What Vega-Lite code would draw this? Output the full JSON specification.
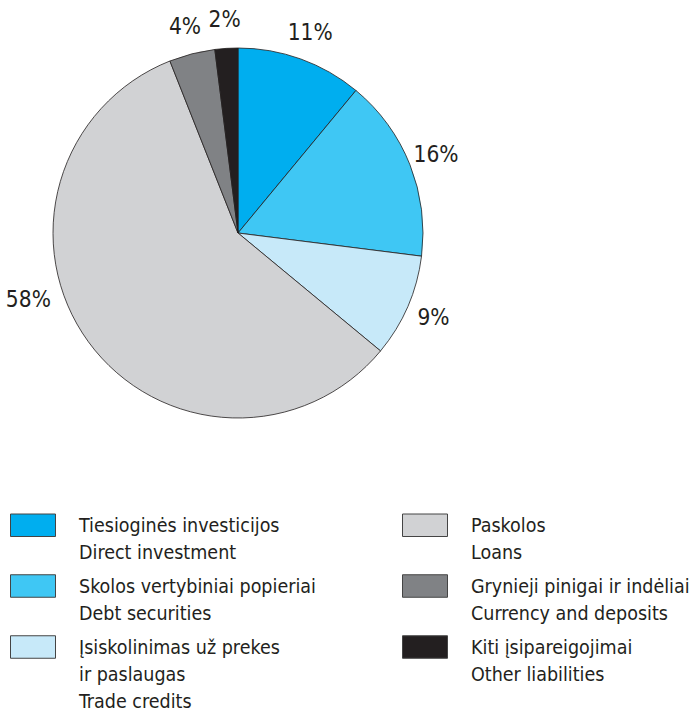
{
  "$schema": "https://vega.github.io/schema/vega-lite/v6.json",
  "width": 476,
  "height": 466,
  "padding": 0,
  "autosize": {"type": "pad"},
  "background": "white",
  "config": {"view": {"stroke": null}, "font": "DejaVu Sans Condensed"},
  "data": {
    "values": [
      {"ord": 1, "cat": "Tiesioginės investicijos|Direct investment", "value": 11, "pct": "11%"},
      {"ord": 2, "cat": "Skolos vertybiniai popieriai|Debt securities", "value": 16, "pct": "16%"},
      {"ord": 3, "cat": "Įsiskolinimas už prekes|ir paslaugas|Trade credits", "value": 9, "pct": "9%"},
      {"ord": 4, "cat": "Paskolos|Loans", "value": 58, "pct": "58%"},
      {"ord": 5, "cat": "Grynieji pinigai ir indėliai|Currency and deposits", "value": 4, "pct": "4%"},
      {"ord": 6, "cat": "Kiti įsipareigojimai|Other liabilities", "value": 2, "pct": "2%"}
    ]
  },
  "encoding": {
    "theta": {"field": "value", "type": "quantitative", "stack": true},
    "order": {"field": "ord", "type": "quantitative"}
  },
  "layer": [
    {
      "mark": {"type": "arc", "outerRadius": 185, "stroke": "#231F20", "strokeWidth": 0.8},
      "encoding": {
        "color": {
          "field": "cat",
          "type": "nominal",
          "scale": {
            "domain": [
              "Tiesioginės investicijos|Direct investment",
              "Skolos vertybiniai popieriai|Debt securities",
              "Įsiskolinimas už prekes|ir paslaugas|Trade credits",
              "Paskolos|Loans",
              "Grynieji pinigai ir indėliai|Currency and deposits",
              "Kiti įsipareigojimai|Other liabilities"
            ],
            "range": ["#00AEEF", "#3FC7F4", "#C7E9F9", "#D1D2D4", "#808285", "#231F20"]
          },
          "legend": {
            "title": null,
            "orient": "none",
            "legendX": 10,
            "legendY": 502,
            "columns": 2,
            "columnPadding": 84,
            "rowPadding": 0,
            "padding": 0,
            "symbolType": "M-1,-0.5H1V0.5H-1Z",
            "symbolSize": 2025,
            "symbolStrokeColor": "#444444",
            "symbolStrokeWidth": 1,
            "symbolOpacity": 1,
            "labelOffset": 23,
            "labelFont": "DejaVu Sans Condensed",
            "labelFontSize": 19.5,
            "labelColor": "#231F20",
            "labelLimit": 400,
            "labelBaseline": "alphabetic",
            "labelExpr": "split(datum.label, '|')",
            "encode": {
              "labels": {"update": {"dy": {"value": 7}, "lineHeight": {"value": 27}}}
            }
          }
        }
      }
    },
    {
      "mark": {"type": "text", "radius": 213, "font": "DejaVu Sans Condensed", "fontSize": 22.5, "fill": "#231F20"},
      "encoding": {
        "text": {"field": "pct"},
        "opacity": {"condition": {"test": "datum.ord == 4", "value": 0}, "value": 1}
      }
    },
    {
      "mark": {"type": "text", "radius": 220, "thetaOffset": 0.32, "font": "DejaVu Sans Condensed", "fontSize": 22.5, "fill": "#231F20"},
      "encoding": {
        "text": {"field": "pct"},
        "opacity": {"condition": {"test": "datum.ord == 4", "value": 1}, "value": 0}
      }
    }
  ]
}
